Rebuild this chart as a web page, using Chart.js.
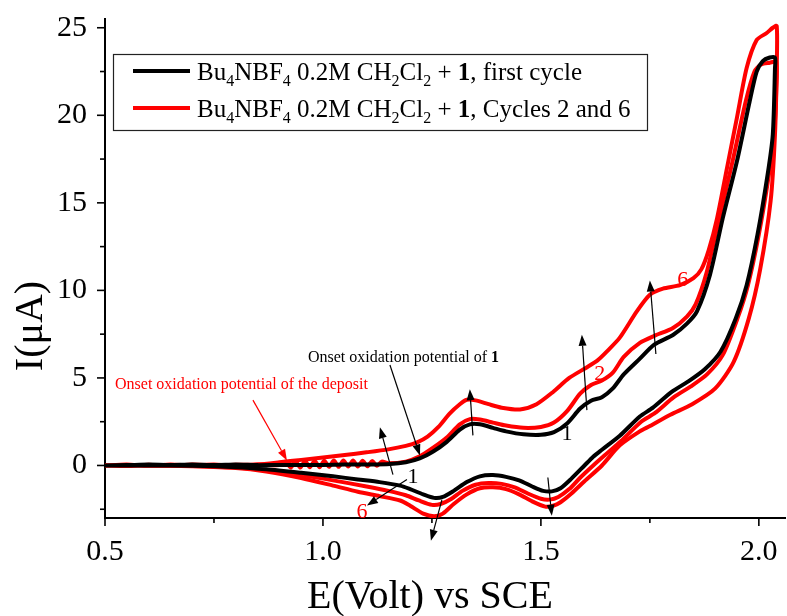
<!DOCTYPE html>
<html><head><meta charset="utf-8">
<script src="https://cdn.jsdelivr.net/npm/chart.js@4.4.0/dist/chart.umd.min.js"></script>
<style>html,body{margin:0;padding:0;background:#fff}#wrap{width:787px;height:616px}</style>
</head><body><div id="wrap"><canvas id="c" width="787" height="616"></canvas></div>
<script>
// ---- tick values ----
const xTicks = [0.5, 1.0, 1.5, 2.0];
const xMinorTicks = [0.75, 1.25, 1.75];
const yTicks = [0, 5, 10, 15, 20, 25];
const yMinorTicks = [-2.5, 2.5, 7.5, 12.5, 17.5, 22.5];

// ---- cycle 1 (black), forward then reverse sweep ----
const cycle1E = [0.50,0.55,0.60,0.65,0.70,0.75,0.80,0.85,0.90,0.95,1.00,1.05,1.10,1.154,1.19,1.222,1.252,1.284,1.314,1.337,1.36,1.39,1.42,1.46,1.50,1.53,1.56,1.59,1.615,1.64,1.665,1.69,1.727,1.76,1.803,1.835,1.858,1.888,1.917,1.95,1.979,1.995,2.009,2.025,2.037,
  2.037,2.032,2.02,1.997,1.972,1.947,1.912,1.876,1.838,1.8,1.757,1.727,1.681,1.64,1.62,1.60,1.57,1.545,1.525,1.505,1.48,1.45,1.42,1.39,1.36,1.33,1.30,1.275,1.255,1.23,1.20,1.177,1.13,1.08,1.023,0.95,0.87,0.80,0.70,0.60,0.50];
const cycle1I = [0.00,0.02,0.05,0.03,0.06,0.02,0.05,0.02,0.03,0.02,0.03,0.05,0.05,0.08,0.18,0.40,0.78,1.35,2.05,2.35,2.35,2.15,1.95,1.78,1.75,1.9,2.4,3.25,3.7,3.9,4.4,5.2,6.1,6.9,7.45,8.1,8.8,10.9,14.1,17.4,20.8,22.5,23.1,23.3,23.3,
  22.7,18.9,16.6,13.2,10.3,8.4,6.5,5.5,4.8,4.2,3.3,2.8,1.7,0.9,0.5,0.0,-0.75,-1.3,-1.48,-1.45,-1.2,-0.85,-0.65,-0.55,-0.62,-0.95,-1.45,-1.8,-1.85,-1.65,-1.35,-1.15,-0.95,-0.8,-0.62,-0.42,-0.22,-0.1,-0.02,0.0,0.0];

// ---- cycle 2 (red) ----
const cycle2E = [0.50,0.55,0.60,0.65,0.70,0.75,0.80,0.85,0.90,0.915,0.926,0.937,0.948,0.959,0.970,0.981,0.992,1.003,1.014,1.025,1.036,1.047,1.058,1.069,1.080,1.091,1.102,1.113,1.124,1.135,1.15,1.19,1.222,1.252,1.284,1.314,1.337,1.36,1.39,1.42,1.46,1.50,1.53,1.56,1.59,1.615,1.64,1.665,1.69,1.727,1.76,1.803,1.835,1.855,1.88,1.91,1.94,1.97,1.99,2.005,2.025,2.04,
  2.04,2.035,2.023,2.0,1.975,1.951,1.917,1.881,1.843,1.805,1.762,1.73,1.684,1.645,1.62,1.59,1.565,1.54,1.52,1.50,1.47,1.44,1.41,1.38,1.35,1.32,1.295,1.27,1.25,1.22,1.19,1.15,1.10,1.023,0.95,0.87,0.80,0.70,0.60,0.50];
const cycle2I = [0.00,0.05,-0.02,0.06,0.00,0.05,-0.02,0.05,0.02,0.22,-0.12,0.24,-0.12,0.25,-0.10,0.26,-0.10,0.27,-0.08,0.28,-0.08,0.28,-0.06,0.28,-0.06,0.27,-0.05,0.25,-0.02,0.22,0.12,0.22,0.52,1.0,1.6,2.35,2.65,2.62,2.45,2.28,2.15,2.2,2.45,3.1,4.1,4.6,4.85,5.3,6.2,7.0,7.4,7.85,8.5,9.2,11.0,14.2,17.4,20.8,22.5,22.9,23.0,23.05,
  21.5,18.9,16.6,13.2,10.3,8.4,6.3,5.2,4.5,3.9,3.0,2.5,1.4,0.55,0.0,-0.7,-1.35,-1.8,-1.95,-1.9,-1.6,-1.25,-1.05,-1.0,-1.1,-1.45,-1.9,-2.2,-2.25,-2.0,-1.7,-1.45,-1.2,-0.85,-0.55,-0.28,-0.12,-0.03,0.0,0.0];

// ---- cycle 6 (red) ----
const cycle6E = [0.50,0.55,0.60,0.65,0.70,0.75,0.80,0.85,0.90,0.95,1.00,1.05,1.10,1.15,1.19,1.216,1.24,1.265,1.29,1.314,1.33,1.35,1.38,1.41,1.452,1.49,1.528,1.565,1.605,1.63,1.651,1.681,1.72,1.75,1.78,1.819,1.85,1.868,1.885,1.904,1.927,1.95,1.972,1.995,2.018,2.032,2.041,
  2.041,2.037,2.027,2.003,1.977,1.942,1.9,1.847,1.797,1.75,1.727,1.681,1.64,1.60,1.57,1.545,1.528,1.51,1.48,1.45,1.42,1.39,1.36,1.33,1.30,1.275,1.255,1.23,1.20,1.177,1.13,1.08,1.023,0.95,0.87,0.80,0.70,0.60,0.50];
const cycle6I = [0.02,-0.03,0.04,-0.02,0.05,0.0,0.04,0.06,0.18,0.32,0.45,0.6,0.75,0.92,1.12,1.32,1.65,2.2,2.95,3.5,3.75,3.72,3.5,3.3,3.2,3.5,4.2,5.0,5.6,6.0,6.5,7.3,8.8,9.75,10.1,10.3,10.7,11.2,12.3,14.1,17.0,19.9,22.7,24.3,24.7,25.0,25.1,
  22.7,18.9,15.1,11.2,8.4,5.9,4.4,3.5,2.9,2.25,1.95,1.15,0.0,-0.9,-1.6,-2.1,-2.3,-2.35,-2.05,-1.65,-1.35,-1.25,-1.3,-1.65,-2.2,-2.75,-2.9,-2.75,-2.3,-2.0,-1.75,-1.5,-1.15,-0.72,-0.35,-0.15,-0.05,0.0,0.0];

// ---- legend and annotation text ----
const legendLabels = [
  {color:'#000000', parts:[['Bu','n'],['4','s'],['NBF','n'],['4','s'],[' 0.2M CH','n'],['2','s'],['Cl','n'],['2','s'],[' + ','n'],['1','b'],[', first cycle','n']]},
  {color:'#ff0000', parts:[['Bu','n'],['4','s'],['NBF','n'],['4','s'],[' 0.2M CH','n'],['2','s'],['Cl','n'],['2','s'],[' + ','n'],['1','b'],[', Cycles 2 and 6','n']]}
];
// text notes placed in data units (E, I)
const notes = [
  {e:0.9656, i:5.91, color:'#000', size:16, align:'left', parts:[['Onset oxidation potential of ','n'],['1','b']]},
  {e:0.523, i:4.36, color:'#ff0000', size:16, align:'left', parts:[['Onset oxidation potential of the deposit','n']]},
  {e:1.2064, i:-0.57, color:'#000', size:22, align:'center', mid:true, parts:[['1','n']]},
  {e:1.0894, i:-2.58, color:'#ff0000', size:22, align:'center', mid:true, parts:[['6','n']]},
  {e:1.5596, i:1.89, color:'#000', size:22, align:'center', mid:true, parts:[['1','n']]},
  {e:1.6353, i:5.28, color:'#ff0000', size:22, align:'center', mid:true, parts:[['2','n']]},
  {e:1.8257, i:10.67, color:'#ff0000', size:22, align:'center', mid:true, parts:[['6','n']]}
];
// arrows in data units: from (e1,i1) to tip (e2,i2)
const arrows = [
  {e1:1.1537, i1:5.74, e2:1.2225, i2:0.57, color:'#000'},
  {e1:0.8394, i1:3.73, e2:0.9174, i2:0.29, color:'#ff0000'},
  {e1:1.1606, i1:-0.52, e2:1.1307, i2:2.18, color:'#000'},
  {e1:1.1927, i1:-0.80, e2:1.1009, i2:-2.29, color:'#000'},
  {e1:1.273, i1:-1.95, e2:1.2477, i2:-4.3, color:'#000'},
  {e1:1.344, i1:1.72, e2:1.337, i2:4.36, color:'#000'},
  {e1:1.516, i1:-0.69, e2:1.525, i2:-2.87, color:'#000'},
  {e1:1.6055, i1:3.16, e2:1.594, i2:7.46, color:'#000'},
  {e1:1.7638, i1:6.37, e2:1.75, i2:10.56, color:'#000'}
];

const SERIF = '"Liberation Serif","Times New Roman",serif';
const toPts = (E, I) => E.map((e, k) => ({x: e, y: I[k]}));

function drawParts(ctx, parts, x, y, size, color, align){
  const fN = size + 'px ' + SERIF, fB = 'bold ' + size + 'px ' + SERIF, fS = Math.round(size*0.65) + 'px ' + SERIF;
  const fontOf = t => t === 'b' ? fB : (t === 's' ? fS : fN);
  let total = 0;
  parts.forEach(p => { ctx.font = fontOf(p[1]); total += ctx.measureText(p[0]).width; });
  let cx = align === 'center' ? x - total/2 : x;
  ctx.fillStyle = color; ctx.textAlign = 'left';
  parts.forEach(p => {
    ctx.font = fontOf(p[1]);
    ctx.fillText(p[0], cx, p[1] === 's' ? y + size*0.22 : y);
    cx += ctx.measureText(p[0]).width;
  });
}

function drawArrow(ctx, x1, y1, x2, y2, color){
  const ang = Math.atan2(y2 - y1, x2 - x1), L = 11, W = 4;
  const bx = x2 - L*Math.cos(ang), by = y2 - L*Math.sin(ang);
  ctx.strokeStyle = color; ctx.fillStyle = color; ctx.lineWidth = 1.2;
  ctx.beginPath(); ctx.moveTo(x1, y1); ctx.lineTo(bx, by); ctx.stroke();
  ctx.beginPath(); ctx.moveTo(x2, y2);
  ctx.lineTo(bx + W*Math.sin(ang), by - W*Math.cos(ang));
  ctx.lineTo(bx - W*Math.sin(ang), by + W*Math.cos(ang));
  ctx.closePath(); ctx.fill();
}

const decor = {
  id: 'decor',
  afterDraw(chart){
    const ctx = chart.ctx, xs = chart.scales.x, ys = chart.scales.y;
    const ca = chart.chartArea;
    ctx.save();
    // tick marks (outward)
    ctx.strokeStyle = '#000'; ctx.lineWidth = 1.6;
    const xb = ca.bottom, yl = ca.left;
    xTicks.forEach(v => { const p = xs.getPixelForValue(v); ctx.beginPath(); ctx.moveTo(p, xb); ctx.lineTo(p, xb + 8); ctx.stroke(); });
    xMinorTicks.forEach(v => { const p = xs.getPixelForValue(v); ctx.beginPath(); ctx.moveTo(p, xb); ctx.lineTo(p, xb + 5); ctx.stroke(); });
    yTicks.forEach(v => { const p = ys.getPixelForValue(v); ctx.beginPath(); ctx.moveTo(yl, p); ctx.lineTo(yl - 8, p); ctx.stroke(); });
    yMinorTicks.forEach(v => { const p = ys.getPixelForValue(v); ctx.beginPath(); ctx.moveTo(yl, p); ctx.lineTo(yl - 5, p); ctx.stroke(); });

    // axis titles
    ctx.fillStyle = '#000'; ctx.textBaseline = 'alphabetic';
    ctx.font = '40px ' + SERIF; ctx.textAlign = 'center';
    ctx.fillText('E(Volt) vs SCE', 430, 608);
    ctx.save(); ctx.translate(42, 326); ctx.rotate(-Math.PI/2);
    ctx.fillText('I(\u03BCA)', 0, 0); ctx.restore();

    // legend
    ctx.strokeStyle = '#222'; ctx.lineWidth = 1.2;
    ctx.strokeRect(113.5, 54.5, 534, 76);
    legendLabels.forEach((lg, k) => {
      const ly = 71 + k*37;
      ctx.strokeStyle = lg.color; ctx.lineWidth = 4;
      ctx.beginPath(); ctx.moveTo(133, ly); ctx.lineTo(190, ly); ctx.stroke();
      drawParts(ctx, lg.parts, 197, ly + 9, 25, '#000', 'left');
    });

    // arrows and notes
    arrows.forEach(a => drawArrow(ctx, xs.getPixelForValue(a.e1), ys.getPixelForValue(a.i1), xs.getPixelForValue(a.e2), ys.getPixelForValue(a.i2), a.color));
    notes.forEach(n => {
      const px = xs.getPixelForValue(n.e), py = ys.getPixelForValue(n.i);
      drawParts(ctx, n.parts, px, n.mid ? py + n.size*0.33 : py, n.size, n.color, n.align);
    });
    ctx.restore();
  }
};

const lineDs = (E, I, color, label) => ({
  label, data: toPts(E, I), borderColor: color, backgroundColor: color,
  borderWidth: 4, pointRadius: 0, showLine: true, tension: 0.25,
  borderJoinStyle: 'round', borderCapStyle: 'round', fill: false
});

new Chart(document.getElementById('c'), {
  type: 'scatter',
  data: { datasets: [
    lineDs(cycle1E, cycle1I, '#000000', 'first cycle'),
    lineDs(cycle2E, cycle2I, '#ff0000', 'cycle 2'),
    lineDs(cycle6E, cycle6I, '#ff0000', 'cycle 6')
  ]},
  options: {
    responsive: false, animation: false,
    layout: { padding: { top: 19, right: 2, left: 0, bottom: 0 } },
    plugins: { legend: { display: false }, tooltip: { enabled: false } },
    scales: {
      x: {
        type: 'linear', min: 0.5, max: 2.06,
        grid: { display: false }, border: { display: true, color: '#000', width: 2 },
        afterFit: s => { s.height = 98; s.paddingLeft = 0; s.paddingRight = 0; },
        afterBuildTicks: s => { s.ticks = xTicks.map(v => ({value: v})); },
        ticks: { color: '#000', padding: 8, maxRotation: 0, autoSkip: false,
                 font: { family: SERIF, size: 30 }, callback: v => Number(v).toFixed(1) }
      },
      y: {
        type: 'linear', min: -3, max: 25.5,
        grid: { display: false }, border: { display: true, color: '#000', width: 2 },
        afterFit: s => { s.width = 105; s.paddingTop = 0; s.paddingBottom = 0; },
        afterBuildTicks: s => { s.ticks = yTicks.map(v => ({value: v})); },
        ticks: { color: '#000', padding: 10, autoSkip: false,
                 font: { family: SERIF, size: 30 }, callback: v => String(v) }
      }
    }
  },
  plugins: [decor]
});
</script></body></html>
